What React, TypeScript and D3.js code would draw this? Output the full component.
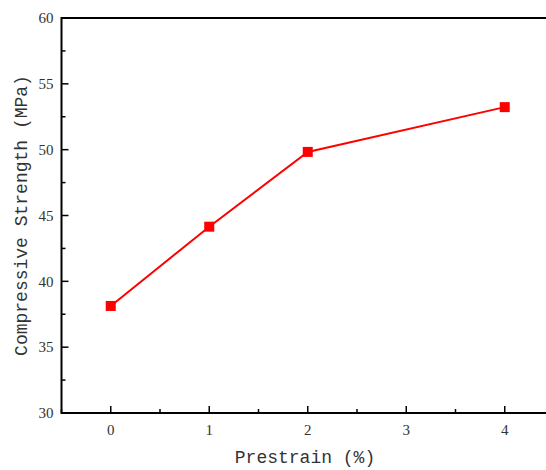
import React from "react";
import * as d3 from "d3";

const prestrain = [0, 1, 2, 4];
const strength = [38.13, 44.15, 49.83, 53.23];
const xTicks = [0, 1, 2, 3, 4];
const xMinor = [-0.5, 0.5, 1.5, 2.5, 3.5, 4.5];
const yTicks = [30, 35, 40, 45, 50, 55, 60];
const yMinor = [32.5, 37.5, 42.5, 47.5, 52.5, 57.5];

const W = 546, H = 470;
const L = 61.5, R = 554, T = 18, B = 413;

export default function App() {
  const x = d3.scaleLinear().domain([-0.5, 4.5]).range([L, R]);
  const y = d3.scaleLinear().domain([30, 60]).range([B, T]);
  const line = d3.line<number>().x((_, i) => x(prestrain[i])).y((d) => y(d));
  const serif = "'Liberation Serif', 'Times New Roman', serif";
  const mono = "'Liberation Mono', 'DejaVu Sans Mono', monospace";
  return (
    <svg width={W} height={H} style={{ position: "absolute", left: 0, top: 0, background: "#fff" }}>
      <rect x={0} y={0} width={W} height={H} fill="#fff" />
      <rect x={L} y={T} width={R - L} height={B - T} fill="none" stroke="#000" strokeWidth={2} />
      {yTicks.map((t) => (
        <g key={"y" + t}>
          <line x1={L} x2={L + 7} y1={y(t)} y2={y(t)} stroke="#000" strokeWidth={1.5} />
          <text x={L - 8} y={y(t)} dy="0.35em" textAnchor="end" fontFamily={serif} fontSize={15} fill="#333">{t}</text>
        </g>
      ))}
      {yMinor.map((t) => (
        <line key={"ym" + t} x1={L} x2={L + 4} y1={y(t)} y2={y(t)} stroke="#000" strokeWidth={1.5} />
      ))}
      {xTicks.map((t) => (
        <g key={"x" + t}>
          <line x1={x(t)} x2={x(t)} y1={B} y2={B - 7} stroke="#000" strokeWidth={1.5} />
          <text x={x(t)} y={B + 22} textAnchor="middle" fontFamily={serif} fontSize={15} fill="#333">{t}</text>
        </g>
      ))}
      {xMinor.map((t) => (
        <line key={"xm" + t} x1={x(t)} x2={x(t)} y1={B} y2={B - 4} stroke="#000" strokeWidth={1.5} />
      ))}
      <path d={line(strength) || ""} fill="none" stroke="#ff0000" strokeWidth={2} />
      {strength.map((v, i) => (
        <rect key={"m" + i} x={x(prestrain[i]) - 5} y={y(v) - 5} width={10} height={10} fill="#ff0000" />
      ))}
      <text x={305} y={463} textAnchor="middle" fontFamily={mono} fontSize={18} fill="#333">Prestrain (%)</text>
      <text transform={`translate(27,${(T + B) / 2}) rotate(-90)`} textAnchor="middle" fontFamily={mono} fontSize={18} fill="#333">Compressive Strength (MPa)</text>
    </svg>
  );
}
